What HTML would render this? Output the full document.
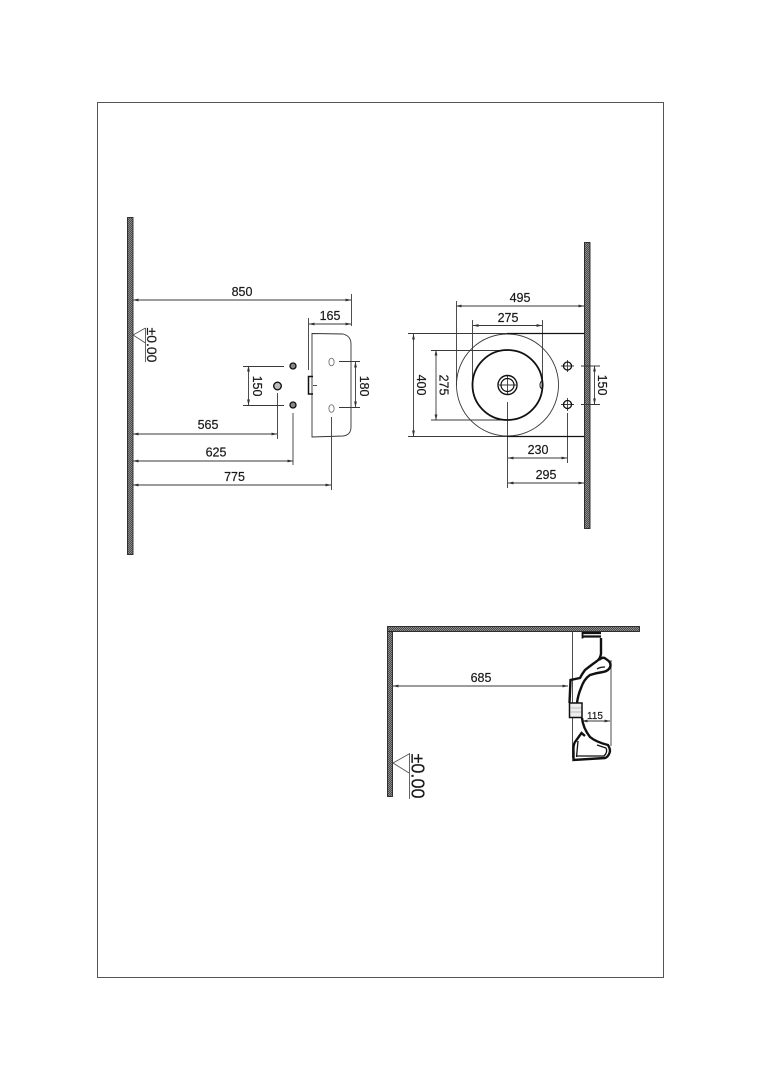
<!DOCTYPE html>
<html><head><meta charset="utf-8"><style>
html,body{margin:0;padding:0;background:#fff}
svg{display:block}
text{font-family:"Liberation Sans",sans-serif;fill:#1a1a1a;stroke:#1a1a1a;stroke-width:.2}
</style></head><body>
<svg width="764" height="1080" viewBox="0 0 764 1080" xmlns="http://www.w3.org/2000/svg">
<defs>
<pattern id="h" width="2" height="2" patternUnits="userSpaceOnUse"><rect width="2" height="2" fill="#999"/><path d="M0 2L2 0" stroke="#333" stroke-width=".7"/></pattern>
<marker id="a" markerWidth="6" markerHeight="4" refX="5.5" refY="2" orient="auto-start-reverse" markerUnits="userSpaceOnUse"><path d="M0 .6L6 2L0 3.4z" fill="#333"/></marker>
</defs>
<rect width="764" height="1080" fill="#fff"/>
<rect x="97.5" y="102.5" width="566" height="875" fill="none" stroke="#555" stroke-width="1"/>

<g stroke="#222" stroke-width=".9" fill="url(#h)">
<rect x="127.500" y="217.500" width="5.500" height="337"/>
<rect x="584.500" y="242.500" width="5.500" height="286"/>
<rect x="387.500" y="626.500" width="252" height="5"/>
<rect x="387.500" y="631.500" width="5" height="165"/>
</g>

<g fill="none" stroke="#3a3a3a" stroke-width=".9">
<!-- left view -->
<path d="M133 300H351" marker-start="url(#a)" marker-end="url(#a)"/>
<path d="M351.500 294V326"/>
<path d="M309 324H351" marker-start="url(#a)" marker-end="url(#a)"/>
<path d="M308.500 318V370"/>
<path d="M312 333.500L343 334Q351 336 351 344V427Q351 435 343 436L312 437Z" stroke="#333"/>
<path d="M243 366.500H284M243 405.500H284"/>
<path d="M248.500 366V405" marker-start="url(#a)" marker-end="url(#a)"/>
<path d="M277.500 393V439M293 413V465M331.500 417V490"/>
<path d="M133 434H277" marker-start="url(#a)" marker-end="url(#a)"/>
<path d="M133 461H293" marker-start="url(#a)" marker-end="url(#a)"/>
<path d="M133 485H331" marker-start="url(#a)" marker-end="url(#a)"/>
<path d="M339 361.500H360M339 407.500H360"/>
<path d="M355.500 362V407" marker-start="url(#a)" marker-end="url(#a)"/>
<path d="M313 385.500H317"/>
<ellipse cx="331.500" cy="362" rx="2.600" ry="3.800" stroke="#777"/>
<ellipse cx="331.500" cy="408.500" rx="2.600" ry="3.800" stroke="#777"/>
<path d="M133 335L145.500 328M133 335L145.500 343M145.500 328V362" stroke="#555"/>
<!-- right view -->
<path d="M456 306H584" marker-start="url(#a)" marker-end="url(#a)"/>
<path d="M456.500 301V386"/>
<path d="M473 325.500H542" marker-start="url(#a)" marker-end="url(#a)"/>
<path d="M472.500 320V385M542.500 320V385"/>
<path d="M408 333.500H507M408 436.500H507"/>
<path d="M413.500 334V436" marker-start="url(#a)" marker-end="url(#a)"/>
<path d="M431 350.500H507M431 420H507"/>
<path d="M436 350V420" marker-start="url(#a)" marker-end="url(#a)"/>
<path d="M507.500 402V488M567.500 413V463"/>
<path d="M508 458H567" marker-start="url(#a)" marker-end="url(#a)"/>
<path d="M508 483H584" marker-start="url(#a)" marker-end="url(#a)"/>
<path d="M581 366H600M581 404.500H600"/>
<path d="M594.500 366V404" marker-start="url(#a)" marker-end="url(#a)"/>
<path d="M561 366H574M561 404.500H574M567.500 360V372M567.500 398V411M499 385H516M507.500 376V394"/>
<circle cx="507.500" cy="385" r="51"/>
<!-- section -->
<path d="M572.500 632V758"/>
<path d="M393 686H568" marker-start="url(#a)" marker-end="url(#a)"/>
<path d="M582 721H610" marker-start="url(#a)" marker-end="url(#a)"/>
<path d="M611 660V746"/>
<path d="M393 763L409 754M393 763L409 773M409.500 753V799" stroke="#555"/>
</g>

<g fill="none" stroke="#111">
<path d="M507 333.500H584M507 436.500H584" stroke-width="1.300"/>
<circle cx="507.500" cy="385" r="35" stroke-width="1.800"/>
<circle cx="507.500" cy="385" r="9.500" stroke-width="1.400"/>
<circle cx="507.500" cy="385" r="6.500" stroke-width="1.200"/>
<ellipse cx="541.500" cy="385" rx="1.500" ry="3.500" stroke-width="1"/>
<circle cx="567.500" cy="366" r="4" stroke-width="1.300"/>
<circle cx="567.500" cy="404.500" r="4" stroke-width="1.300"/>
<circle cx="293" cy="366" r="3" stroke-width="1.300" fill="#888"/>
<circle cx="293" cy="405" r="3" stroke-width="1.300" fill="#888"/>
<circle cx="277.500" cy="386" r="3.800" stroke-width="1.400" fill="#bbb"/>
<path d="M313 376.500H308.500V394H313" stroke-width="1.500"/>
<!-- section outline -->
<path d="M582.500 633H601M582.500 636.500H601" stroke-width="2.200"/>
<path d="M582.500 632V638.500" stroke-width="1.800"/>
<path d="M601 638V654Q600 659 597 661Q590 666 585 670Q582 674 580 678L570.500 680L569.500 703" stroke-width="2.400"/>
<path d="M599 660Q603 656 606 659Q611 662 610.500 666Q609 671 603 672Q596 673 590 675Q584 679 581 688Q578 695 577 703" stroke-width="2.400"/>
<path d="M597 669Q600 667 605 667" stroke-width="1.300"/>
<path d="M582 718Q583 728 590 737Q596 742 608 745Q611 750 609.500 753Q608 757 605 758L573.500 760V752Q573 745 575 742L581.500 733L585 736" stroke-width="2.400"/>
<path d="M577 756H604Q608 752 606 748L597 745" stroke-width="1.300"/>
<path d="M578 741L576.500 757" stroke-width="1.300"/>
<path d="M569.500 703H582V717.500H569.500Z" stroke-width="1.500" fill="#eee"/>
<path d="M570 708H581M570 712H581" stroke="#aaa" stroke-width=".7"/>
</g>

<g font-size="12.500">
<text x="242" y="296" text-anchor="middle">850</text>
<text x="330" y="320" text-anchor="middle">165</text>
<text x="208" y="429" text-anchor="middle">565</text>
<text x="216" y="456.500" text-anchor="middle">625</text>
<text x="234.500" y="481" text-anchor="middle">775</text>
<text x="520" y="302" text-anchor="middle">495</text>
<text x="508" y="322" text-anchor="middle">275</text>
<text x="538" y="454" text-anchor="middle">230</text>
<text x="546" y="479" text-anchor="middle">295</text>
<text x="481" y="682" text-anchor="middle">685</text>
<text transform="translate(253,386) rotate(90)" text-anchor="middle">150</text>
<text transform="translate(360,386) rotate(90)" text-anchor="middle">180</text>
<text transform="translate(417,385) rotate(90)" text-anchor="middle">400</text>
<text transform="translate(439.500,385) rotate(90)" text-anchor="middle">275</text>
<text transform="translate(598,385) rotate(90)" text-anchor="middle">150</text>
<text transform="translate(147,345) rotate(90)" text-anchor="middle" font-size="14">±0.00</text>
<text transform="translate(411.500,776) rotate(90)" text-anchor="middle" font-size="18">±0.00</text>
<text x="595" y="719" text-anchor="middle" font-size="10">115</text>
</g>
</svg>
</body></html>
